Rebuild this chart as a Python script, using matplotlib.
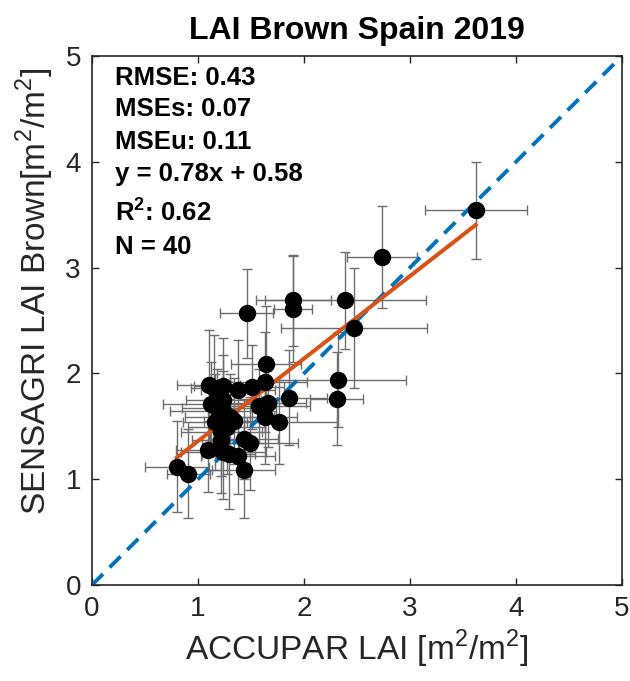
import matplotlib
matplotlib.use("Agg")
import matplotlib.pyplot as plt
import numpy as np

plt.rcParams['font.family'] = ['Liberation Sans', 'DejaVu Sans']
plt.rcParams['mathtext.fontset'] = 'custom'
plt.rcParams['mathtext.rm'] = 'Liberation Sans'
plt.rcParams['mathtext.bf'] = 'Liberation Sans:bold'

accupar = [3.62, 2.74, 2.47, 2.39, 1.90, 1.90, 1.46, 1.64, 2.32, 2.31,
           1.86, 1.10, 1.15, 1.24, 1.38, 1.51, 1.63, 1.12, 1.24, 1.24,
           1.16, 1.30, 1.58, 1.66, 1.63, 1.76, 1.22, 1.22, 1.43, 1.49,
           1.09, 1.24, 1.29, 1.38, 1.43, 0.80, 0.91, 1.18, 1.34, 1.27]
sensagri = [3.54, 3.10, 2.43, 2.69, 2.69, 2.61, 2.57, 2.09, 1.94, 1.76,
            1.77, 1.89, 1.86, 1.88, 1.84, 1.87, 1.92, 1.71, 1.75, 1.64,
            1.54, 1.59, 1.69, 1.72, 1.59, 1.54, 1.45, 1.37, 1.38, 1.34,
            1.28, 1.26, 1.24, 1.22, 1.09, 1.12, 1.05, 1.67, 1.55, 1.49]
accupar_err = [0.48, 0.33, 0.69, 0.76, 0.35, 0.18, 0.25, 0.33, 0.64, 0.25,
               0.36, 0.30, 0.22, 0.28, 0.35, 0.30, 0.40, 0.45, 0.35, 0.50,
               0.30, 0.42, 0.48, 0.36, 0.30, 0.55, 0.38, 0.28, 0.32, 0.45,
               0.30, 0.40, 0.25, 0.35, 0.30, 0.30, 0.20, 0.33, 0.28, 0.36]
sensagri_err = [0.46, 0.48, 0.57, 0.46, 0.43, 0.50, 0.42, 0.55, 0.45, 0.44,
                0.45, 0.52, 0.50, 0.45, 0.48, 0.40, 0.47, 0.40, 0.42, 0.38,
                0.45, 0.40, 0.35, 0.42, 0.45, 0.40, 0.42, 0.50, 0.38, 0.44,
                0.40, 0.45, 0.52, 0.36, 0.46, 0.43, 0.42, 0.37, 0.41, 0.44]
slope, intercept = 0.78, 0.58
stats_lines = ["RMSE: 0.43", "MSEs: 0.07", "MSEu: 0.11",
               "y = 0.78x + 0.58", r"R$^{\mathbf{2}}$: 0.62", "N = 40"]
stats_y = [4.73, 4.43, 4.12, 3.82, 3.44, 3.13]
ticks = [0, 1, 2, 3, 4, 5]

fig = plt.figure(figsize=(6.30, 6.81), dpi=100)
ax = fig.add_axes([92/630, 1-585/681, 530/630, 529/681])

ax.errorbar(accupar, sensagri, xerr=accupar_err, yerr=sensagri_err,
            fmt='none', ecolor='#6e6e6e', elinewidth=1.0, capsize=3.6,
            capthick=1.0, zorder=1)
ax.plot([0, 5], [0, 5], color='#0072BD', lw=2.8, dashes=(4.0, 2.4), zorder=2)
xf = np.array([min(accupar), max(accupar)])
ax.plot(xf, slope*xf + intercept, color='#D95319', lw=2.9, zorder=3)
ax.plot(accupar, sensagri, 'o', color='black', ms=11.5, zorder=4)

ax.set_xlim(0, 5)
ax.set_ylim(0, 5)
ax.set_xticks(ticks)
ax.set_yticks(ticks)
ax.tick_params(direction='in', length=5, width=1, top=True, right=True,
               labelsize=20, colors='#262626', pad=8)
for s in ax.spines.values():
    s.set_linewidth(1.2)
    s.set_color('#262626')

ax.set_xlabel(r"ACCUPAR LAI [m$^2$/m$^2$]", fontsize=24, color='#262626', labelpad=4)
ax.set_ylabel(r"SENSAGRI LAI Brown[m$^2$/m$^2$]", fontsize=24, color='#262626', va='center')
ax.yaxis.set_label_coords(-0.108, 0.556)
ax.set_title("LAI Brown Spain 2019", fontsize=23, fontweight='bold', pad=12)

for t, yy in zip(stats_lines, stats_y):
    ax.text(0.22, yy, t, fontsize=18.5, fontweight='bold', va='baseline', ha='left')

fig.savefig("out.png", dpi=100)
